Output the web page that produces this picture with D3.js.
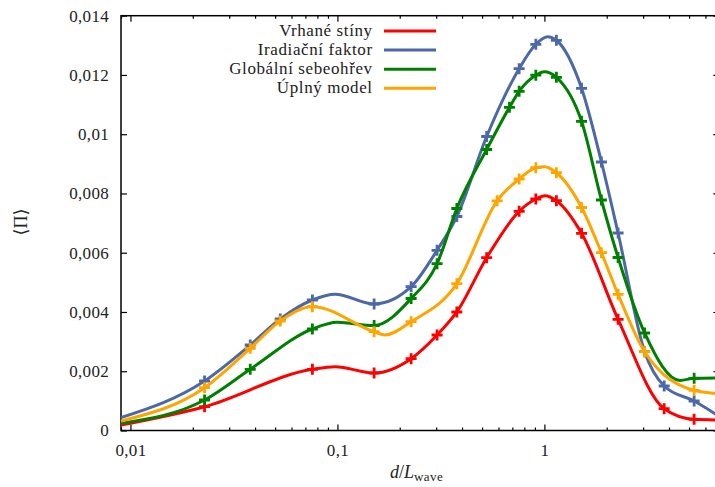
<!DOCTYPE html>
<html><head><meta charset="utf-8">
<script src="https://cdn.jsdelivr.net/npm/d3@7/dist/d3.min.js"></script>
<style>
body{margin:0;background:#fff;}
svg{display:block;}
text{font-family:"Liberation Serif","DejaVu Serif",serif;fill:#222;}
</style></head>
<body>
<script>
// ---- data ----
const seriesNames = ["Vrhané stíny", "Iradiační faktor", "Globální sebeohřev", "Úplný model"];
const seriesColors = ["#ff0000", "#4c68a6", "#008000", "#ffa500"];

const redMarkX = [0.0228, 0.0757, 0.1504, 0.227, 0.303, 0.3775, 0.526, 0.755, 0.909, 1.143, 1.512, 2.27, 3.79, 5.29];
const redMarkY = [0.000803, 0.002066, 0.001941, 0.002423, 0.003223, 0.004000, 0.005832, 0.007398, 0.007813, 0.007756, 0.006656, 0.003753, 0.000736, 0.000378];
const redExtraX = [0.009, 0.0975, 1.008, 7];
const redExtraY = [0.000186, 0.002153, 0.007925, 0.000354];

const blueMarkX = [0.0228, 0.0379, 0.0529, 0.0757, 0.1504, 0.227, 0.303, 0.3775, 0.526, 0.755, 0.909, 1.143, 1.512, 1.886, 2.27, 3.05, 3.79, 5.29];
const blueMarkY = [0.001671, 0.002886, 0.003763, 0.004405, 0.004270, 0.004853, 0.006082, 0.007223, 0.009923, 0.012211, 0.013035, 0.013170, 0.011550, 0.009062, 0.006666, 0.002660, 0.001502, 0.000996];
const blueExtraX = [0.009, 0.0975, 1.038, 7];
const blueExtraY = [0.000439, 0.004597, 0.013291, 0.000476];

const greenMarkX = [0.0228, 0.0379, 0.0757, 0.1504, 0.227, 0.303, 0.3775, 0.526, 0.678, 0.755, 0.909, 1.143, 1.512, 1.886, 2.27, 3.05, 5.29];
const greenMarkY = [0.001029, 0.002066, 0.003426, 0.003544, 0.004455, 0.005630, 0.007493, 0.009484, 0.010908, 0.011448, 0.011992, 0.011921, 0.010436, 0.007780, 0.005839, 0.003291, 0.001762];
const greenExtraX = [0.009, 0.0997, 1.0, 4.52, 7];
const greenExtraY = [0.000243, 0.003652, 0.012110, 0.001688, 0.001775];

const orangeMarkX = [0.0228, 0.0379, 0.0529, 0.0757, 0.1504, 0.227, 0.3775, 0.591, 0.755, 0.909, 1.143, 1.512, 1.886, 2.27, 3.05, 5.29];
const orangeMarkY = [0.001445, 0.002774, 0.003696, 0.004178, 0.003335, 0.003672, 0.004955, 0.007753, 0.008488, 0.008870, 0.008701, 0.007527, 0.006001, 0.004597, 0.002660, 0.001357];
const orangeExtraX = [0.009, 0.170, 1.0, 7];
const orangeExtraY = [0.000321, 0.003223, 0.008904, 0.001239];

const xTickValues = [0.01, 0.1, 1];
const xTickLabels = ["0,01", "0,1", "1"];
const yTickValues = [0, 0.002, 0.004, 0.006, 0.008, 0.010, 0.012, 0.014];
const yTickLabels = ["0", "0,002", "0,004", "0,006", "0,008", "0,01", "0,012", "0,014"];

// ---- layout ----
const W = 715, H = 487;
const L = 121, R = 719.3, T = 15.7, B = 430.5;

const svg = d3.select("body").append("svg").attr("width", W).attr("height", H);
const x = d3.scaleLog().domain([0.009, 7]).range([L, R]);
const y = d3.scaleLinear().domain([0, 0.014]).range([B, T]);

const minorX = [];
for (let e = -3; e <= 0; e++) for (let k = 2; k <= 9; k++) { const v = k * Math.pow(10, e); if (v >= 0.009 && v <= 7) minorX.push(v); }

function styleAxis(g) {
  g.select(".domain").remove();
  g.selectAll(".tick line").attr("stroke", "#000").attr("stroke-width", 1.2);
  g.selectAll(".tick text").attr("font-size", 17).attr("letter-spacing", 0.3)
    .attr("font-family", "Liberation Serif, DejaVu Serif, serif").attr("fill", "#222");
}
// bottom
svg.append("g").attr("transform", `translate(0,${B})`)
  .call(d3.axisBottom(x).tickValues(xTickValues).tickFormat((d, i) => xTickLabels[i]).tickSize(-6).tickPadding(13))
  .call(styleAxis);
svg.append("g").attr("transform", `translate(0,${B})`)
  .call(d3.axisBottom(x).tickValues(minorX).tickFormat("").tickSize(-3)).call(styleAxis);
// top
svg.append("g").attr("transform", `translate(0,${T})`)
  .call(d3.axisTop(x).tickValues(xTickValues).tickFormat("").tickSize(-6)).call(styleAxis);
svg.append("g").attr("transform", `translate(0,${T})`)
  .call(d3.axisTop(x).tickValues(minorX).tickFormat("").tickSize(-3)).call(styleAxis);
// left
svg.append("g").attr("transform", `translate(${L},0)`)
  .call(d3.axisLeft(y).tickValues(yTickValues).tickFormat((d, i) => yTickLabels[i]).tickSize(-6).tickPadding(12))
  .call(styleAxis);
// right
svg.append("g").attr("transform", `translate(${R},0)`)
  .call(d3.axisRight(y).tickValues(yTickValues).tickFormat("").tickSize(-6)).call(styleAxis);

// frame
svg.append("rect").attr("x", L).attr("y", T).attr("width", R - L).attr("height", B - T)
  .attr("fill", "none").attr("stroke", "#000").attr("stroke-width", 1.5);

// clip
svg.append("clipPath").attr("id", "clip").append("rect")
  .attr("x", L).attr("y", T - 10).attr("width", R - L).attr("height", B - T + 10);

const series = [
  {mx: redMarkX, my: redMarkY, ex: redExtraX, ey: redExtraY},
  {mx: blueMarkX, my: blueMarkY, ex: blueExtraX, ey: blueExtraY},
  {mx: greenMarkX, my: greenMarkY, ex: greenExtraX, ey: greenExtraY},
  {mx: orangeMarkX, my: orangeMarkY, ex: orangeExtraX, ey: orangeExtraY}
];

const line = d3.line().x(d => x(d[0])).y(d => y(d[1])).curve(d3.curveMonotoneX);
const plot = svg.append("g").attr("clip-path", "url(#clip)");

series.forEach((s, i) => {
  const pts = s.mx.map((v, j) => [v, s.my[j]]).concat(s.ex.map((v, j) => [v, s.ey[j]]))
    .sort((a, b) => a[0] - b[0]);
  const g = plot.append("g");
  g.append("path").attr("d", line(pts)).attr("fill", "none")
    .attr("stroke", seriesColors[i]).attr("stroke-width", 3).attr("stroke-linejoin", "round");
  const m = 5.5;
  g.selectAll("path.mk").data(s.mx.map((v, j) => [v, s.my[j]])).join("path").attr("class", "mk")
    .attr("d", d => { const px = x(d[0]), py = y(d[1]); return `M${px - m},${py}H${px + m}M${px},${py - m}V${py + m}`; })
    .attr("stroke", seriesColors[i]).attr("stroke-width", 2.8).attr("fill", "none");
});

// legend
const legRow0 = 31, legStep = 19.1;
seriesNames.forEach((n, i) => {
  const yy = legRow0 + i * legStep;
  svg.append("text").attr("x", 372.7).attr("y", yy + 5).attr("text-anchor", "end")
    .attr("font-size", 17).attr("letter-spacing", 0.6).text(n);
  svg.append("line").attr("x1", 384).attr("x2", 436).attr("y1", yy).attr("y2", yy)
    .attr("stroke", seriesColors[i]).attr("stroke-width", 3);
});

// axis labels
svg.append("text").attr("transform", "translate(27,222) rotate(-90)").attr("text-anchor", "middle")
  .attr("font-size", 18).text("⟨Π⟩");
const xl = svg.append("text").attr("x", 390).attr("y", 478).attr("font-size", 18);
xl.append("tspan").attr("font-style", "italic").text("d");
xl.append("tspan").text("/");
xl.append("tspan").attr("font-style", "italic").text("L");
xl.append("tspan").attr("font-size", 13).attr("dy", 3).attr("letter-spacing", 0.4).text("wave");
</script>
</body></html>
